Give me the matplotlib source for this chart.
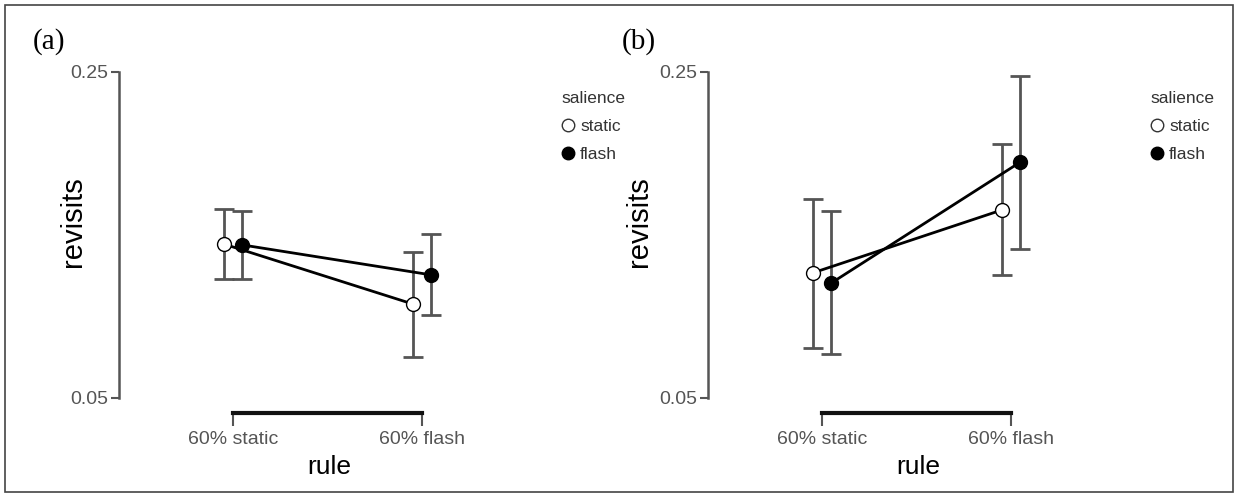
import matplotlib
matplotlib.use("Agg")
import matplotlib.pyplot as plt
from matplotlib.lines import Line2D
from matplotlib.patches import Rectangle
import numpy as np

plt.rcParams['font.family'] = ['Liberation Sans', 'DejaVu Sans']

categories = ["60% static", "60% flash"]
series = ["static", "flash"]

# panel (a)
a_static_mean = [0.1445, 0.1077]
a_static_low = [0.1230, 0.0752]
a_static_high = [0.1660, 0.1396]
a_flash_mean = [0.1439, 0.1255]
a_flash_low = [0.1230, 0.1009]
a_flash_high = [0.1647, 0.1506]

# panel (b)
b_static_mean = [0.1267, 0.1653]
b_static_low = [0.0807, 0.1255]
b_static_high = [0.1721, 0.2058]
b_flash_mean = [0.1206, 0.1948]
b_flash_low = [0.0770, 0.1414]
b_flash_high = [0.1647, 0.2475]

y_ticks = [0.05, 0.25]
y_ticklabels = ["0.05", "0.25"]

W, H = 1238, 496
fig = plt.figure(figsize=(W / 100, H / 100), dpi=100)

# border
fig.patches.append(Rectangle((5 / W, 4 / H), (W - 10) / W, (H - 9) / H,
                             transform=fig.transFigure, fill=False,
                             edgecolor='#444444', linewidth=1.2))

GRAY = '#555555'


def panel(left_px, label, ylab_off, sm, sl, sh, fm, fl, fh):
    right_px = left_px + 421
    top_px, bot_px = 72, 398
    ax = fig.add_axes([left_px / W, 1 - bot_px / H, (right_px - left_px) / W,
                       (bot_px - top_px) / H])
    ax.set_xlim(-0.603, 1.624)
    ax.set_ylim(0.05, 0.25)
    x = np.arange(len(categories))
    d = 0.05
    for mean, low, high, off, fc in [(sm, sl, sh, -d, 'white'), (fm, fl, fh, d, 'black')]:
        mean = np.array(mean)
        yerr = [mean - np.array(low), np.array(high) - mean]
        ax.errorbar(x + off, mean, yerr=yerr, fmt='none', ecolor=GRAY,
                    elinewidth=2, capsize=7, capthick=2, zorder=2)
        ax.plot(x + off, mean, color='black', linewidth=2, zorder=3)
        ax.plot(x + off, mean, linestyle='none', marker='o', markersize=10,
                markerfacecolor=fc, markeredgecolor='black', markeredgewidth=1,
                zorder=4)
    for s in ['top', 'right']:
        ax.spines[s].set_visible(False)
    ax.spines['left'].set_bounds(0.05, 0.25)
    ax.spines['left'].set_color(GRAY)
    ax.spines['left'].set_linewidth(1.8)
    ax.spines['bottom'].set_bounds(0, 1)
    ax.spines['bottom'].set_position(('outward', 11))
    ax.spines['bottom'].set_linewidth(3)
    ax.spines['bottom'].set_color('#111111')
    ax.set_yticks(y_ticks)
    ax.set_yticklabels(y_ticklabels)
    ax.set_xticks(x)
    ax.set_xticklabels(categories)
    ax.tick_params(axis='y', length=6, width=1.5, color=GRAY, labelcolor=GRAY,
                   labelsize=14, pad=1.5)
    ax.tick_params(axis='x', length=9, width=1.5, color=GRAY, labelcolor=GRAY,
                   labelsize=14, pad=4)
    ax.set_ylabel("revisits", fontsize=21)
    ax.yaxis.set_label_coords(-ylab_off / 421, 0.54)
    ax.yaxis.label.set_va('center')
    ax.set_xlabel("rule", fontsize=19, labelpad=5)
    ax.patch.set_alpha(0)

    fig.text((left_px - 86) / W, 1 - 42 / H, label, family='Liberation Serif',
             fontsize=21, va='center', ha='left')

    handles = [Line2D([], [], linestyle='none', marker='o', markersize=9,
                      markerfacecolor='white', markeredgecolor='#333333'),
               Line2D([], [], linestyle='none', marker='o', markersize=9,
                      markerfacecolor='black', markeredgecolor='black')]
    leg = ax.legend(handles, series, title='salience', loc='upper left',
                    bbox_to_anchor=((right_px + 21) / W, 1 - 91 / H),
                    bbox_transform=fig.transFigure, frameon=False,
                    fontsize=12.5, title_fontsize=12.5, handlelength=0.8,
                    handletextpad=0.3, labelspacing=0.75, borderpad=0,
                    borderaxespad=0)
    for t in leg.get_texts():
        t.set_color('#333333')
    leg.get_title().set_color('#333333')
    leg._legend_box.align = 'left'
    return ax


panel(119, "(a)", 46, a_static_mean, a_static_low, a_static_high,
      a_flash_mean, a_flash_low, a_flash_high)
panel(708, "(b)", 69, b_static_mean, b_static_low, b_static_high,
      b_flash_mean, b_flash_low, b_flash_high)

fig.savefig("out.png", dpi=100)
